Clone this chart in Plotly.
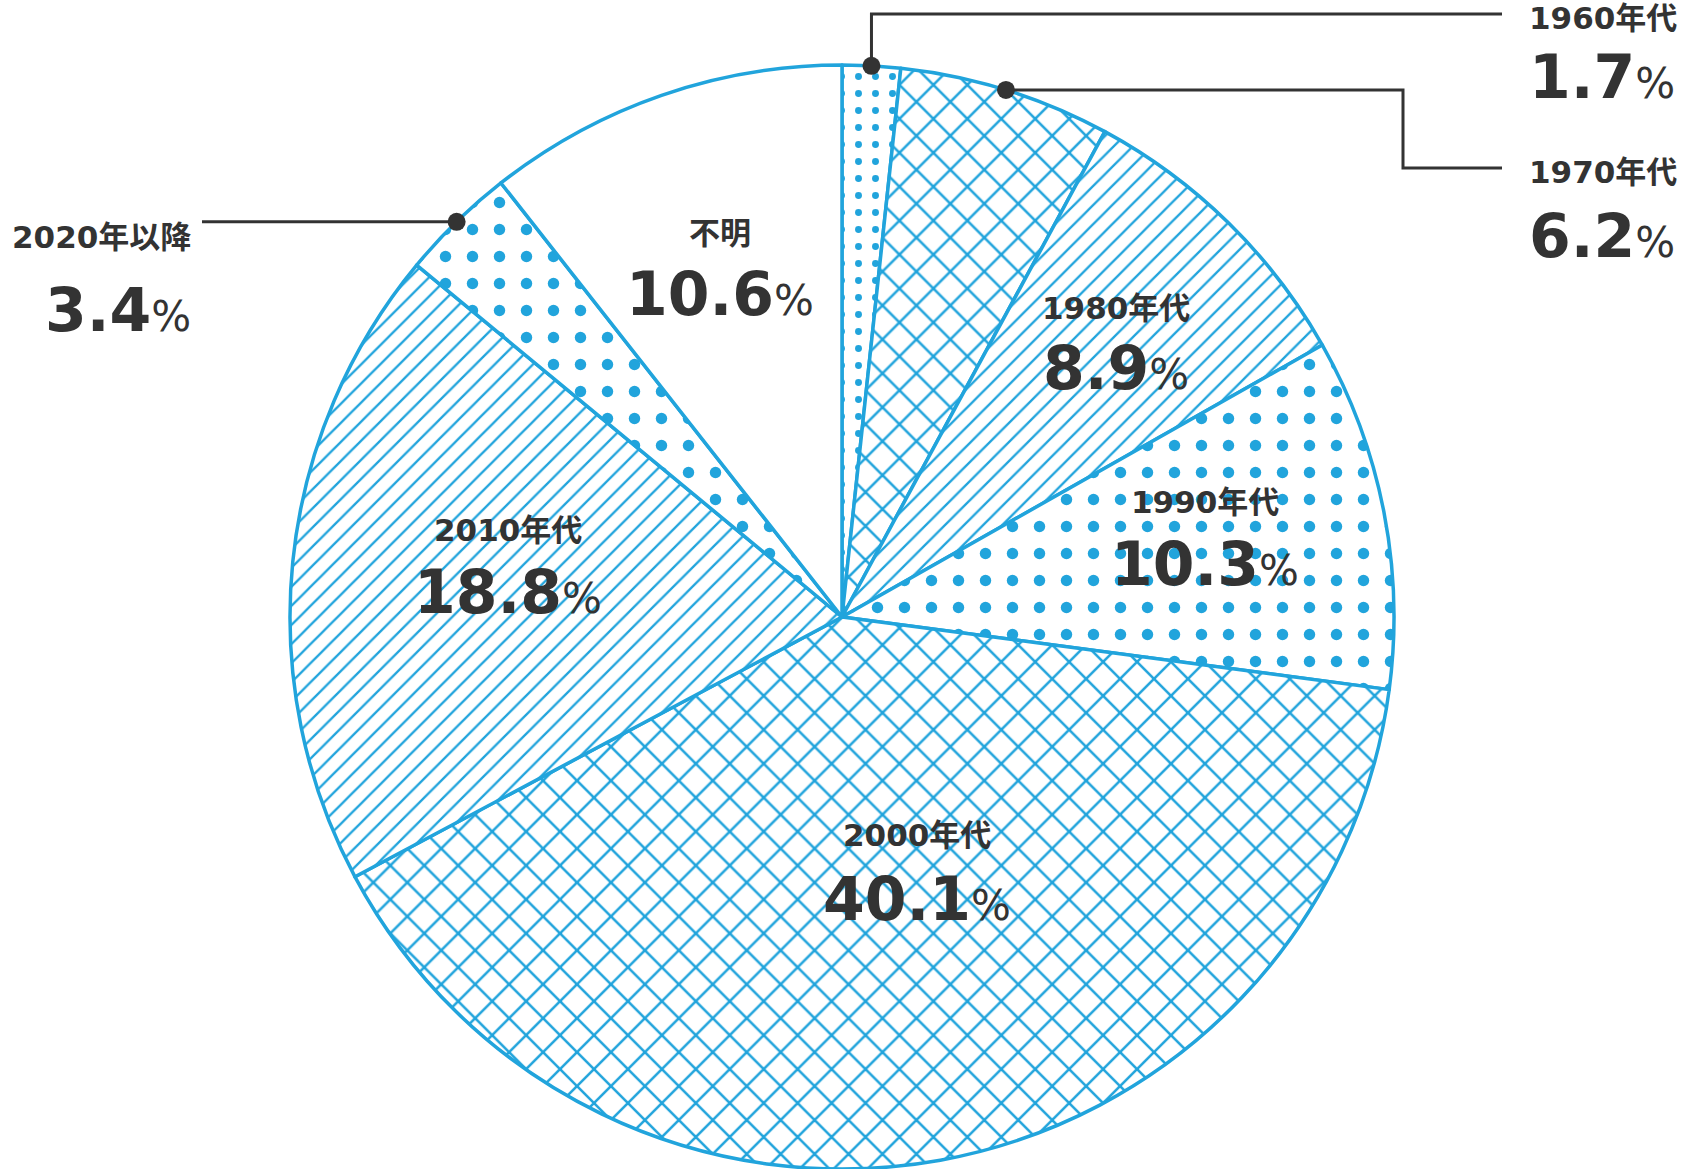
import math
import plotly.graph_objects as go

# ---- data ----
labels = ["1960年代", "1970年代", "1980年代", "1990年代", "2000年代", "2010年代", "2020年以降", "不明"]
values = [1.7, 6.2, 8.9, 10.3, 40.1, 18.8, 3.4, 10.6]

# ---- style ----
BLUE = "#21a4dc"
DARK = "#333333"
pattern_shapes = [".", "x", "/", ".", "x", "/", ".", ""]
pattern_sizes = [17, 24, 13.5, 27, 24, 13.5, 27, 10]
pattern_solid = [0.13, 0.2, 0.17, 0.14, 0.2, 0.17, 0.14, 0.1]

W, H = 1682, 1169
CX, CY, R = 842, 617, 552
LABEL_FONT = "DejaVu Sans, Noto Sans CJK JP, sans-serif"


def px(x):
    return x / W


def py(y):
    return 1 - y / H


fig = go.Figure(
    go.Pie(
        labels=labels,
        values=values,
        sort=False,
        direction="clockwise",
        rotation=0,
        textinfo="none",
        hoverinfo="label+percent",
        marker=dict(
            colors=["white"] * len(values),
            line=dict(color=BLUE, width=3.5),
            pattern=dict(
                shape=pattern_shapes,
                size=pattern_sizes,
                solidity=pattern_solid,
                fgcolor=BLUE,
                bgcolor="white",
                fillmode="replace",
            ),
        ),
        domain=dict(x=[px(CX - R), px(CX + R)], y=[py(CY + R), py(CY - R)]),
    )
)

total = sum(values)
mids = []
acc = 0.0
for v in values:
    mids.append((acc + v / 2) / total)
    acc += v


def rim_point(frac):
    a = 2 * math.pi * frac
    return CX + R * math.sin(a), CY - R * math.cos(a)


def pct_html(v):
    return f"{v:.1f}<span style='font-size:42px;font-weight:400'>%</span>"


annotations = []
shapes = []


def add_label(idx, x, y_lab, y_num, anchor="center"):
    annotations.append(dict(
        x=px(x), y=py(y_lab), xref="paper", yref="paper", xanchor=anchor, yanchor="middle",
        text=labels[idx], showarrow=False,
        font=dict(family=LABEL_FONT, size=31, color=DARK, weight=600)))
    annotations.append(dict(
        x=px(x), y=py(y_num), xref="paper", yref="paper", xanchor=anchor, yanchor="middle",
        text=pct_html(values[idx]), showarrow=False,
        font=dict(family=LABEL_FONT, size=60, color=DARK, weight=700)))


# inside labels (index: x, label y, number y)
inside_pos = {2: (1116, 308, 368), 3: (1205, 502, 564), 4: (917, 835, 899),
              5: (508, 530, 592), 7: (720, 233, 294)}
for i, (x, yl, yn) in inside_pos.items():
    add_label(i, x, yl, yn)

# outside labels
add_label(0, 1527, 18, 77, anchor="left")
add_label(1, 1527, 172, 236, anchor="left")
add_label(6, 193, 237, 310, anchor="right")


def dot(x, y, r=9):
    shapes.append(dict(type="circle", xref="paper", yref="paper",
                       x0=px(x - r), x1=px(x + r), y0=py(y + r), y1=py(y - r),
                       fillcolor=DARK, line=dict(width=0)))


def poly(points):
    d = "M " + " L ".join(f"{px(x)},{py(y)}" for x, y in points)
    shapes.append(dict(type="path", xref="paper", yref="paper", path=d,
                       line=dict(color=DARK, width=3)))


# leader lines
x0, y0 = rim_point(mids[0])
poly([(x0, y0), (x0, 14), (1502, 14)])
dot(x0, y0)

x1, y1 = rim_point(mids[1])
poly([(x1, y1), (1403, y1), (1403, 168), (1502, 168)])
dot(x1, y1)

x6, y6 = rim_point(mids[6])
poly([(x6, y6), (202, y6)])
dot(x6, y6)

fig.update_layout(
    width=W, height=H, autosize=False,
    margin=dict(l=0, r=0, t=0, b=0, pad=0),
    paper_bgcolor="white", plot_bgcolor="white",
    showlegend=False,
    annotations=annotations,
    shapes=shapes,
)

fig.write_html("out.html", config={"displayModeBar": False},
               post_script="document.body.style.margin='0';")
